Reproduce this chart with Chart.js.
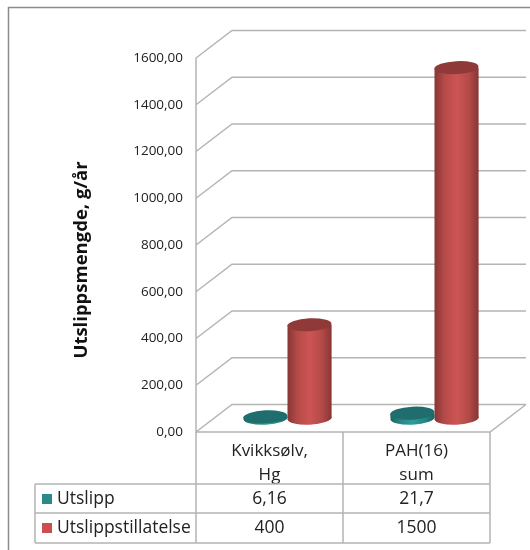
<!DOCTYPE html>
<html lang="en">
<head>
  <meta charset="UTF-8" />
  <title>Utslippsmengde</title>
  <script src="https://cdn.jsdelivr.net/npm/chart.js"></script>
  <style>
    html, body { margin: 0; background: #fff; }
    canvas { display: block; }
  </style>
</head>
<body>
  <canvas id="chart" width="530" height="550"></canvas>
  <script>
    const categories = [['Kvikksølv,', 'Hg'], ['PAH(16)', 'sum']];
    const seriesNames = ['Utslipp', 'Utslippstillatelse'];
    const utslipp = [6.16, 21.7];
    const tillatelse = [400, 1500];
    const utslippLabels = ['6,16', '21,7'];
    const tillatelseLabels = ['400', '1500'];

    const FONT = '"Open Sans", "Noto Sans", sans-serif';
    const TEXT = '#222';
    const LINE = '#b4b4b4';
    const depthX = 36, depthY = -27.5; // wall depth
    const rx = 22, ry = 6.5, tilt = -0.05;

    const shades = [
      { edge: '#1a6464', soft: '#268585', mid: '#2f9c9c', top: '#1f6d6d', key: '#2a8a8a' },
      { edge: '#873634', soft: '#b34a48', mid: '#cd5553', top: '#8f3a38', key: '#c9504f' }
    ];

    function cylinderFill(c) {
      const s = shades[c.datasetIndex];
      const x = c.chart.scales.x;
      if (!x || c.dataIndex === undefined) return s.mid;
      const centre = x.getPixelForValue(c.dataIndex);
      const w = x.width / 2 * 0.6 / 2;
      if (!Number.isFinite(centre) || !Number.isFinite(w)) return s.mid;
      const left = c.datasetIndex === 0 ? centre - w : centre;
      const g = c.chart.ctx.createLinearGradient(left, 0, left + w, 0);
      g.addColorStop(0, s.edge);
      g.addColorStop(0.22, s.soft);
      g.addColorStop(0.5, s.mid);
      g.addColorStop(0.78, s.soft);
      g.addColorStop(1, s.edge);
      return g;
    }

    function ellipse(ctx, x, y, fill) {
      ctx.beginPath();
      ctx.ellipse(x, y, rx, ry, tilt, 0, Math.PI * 2);
      ctx.fillStyle = fill;
      ctx.fill();
    }

    // walls, floor and the data table under the plot
    const frame = {
      id: 'frame',
      beforeDatasetsDraw(chart) {
        const { ctx, scales: { x, y } } = chart;
        const l = x.left, r = x.right, b = y.bottom;
        ctx.save();
        ctx.strokeStyle = LINE;
        ctx.lineWidth = 1.5;
        ctx.beginPath();
        y.ticks.forEach(t => {
          const py = y.getPixelForValue(t.value);
          ctx.moveTo(l, py);
          ctx.lineTo(l + depthX, py + depthY);
          ctx.lineTo(r + depthX, py + depthY);
        });
        ctx.moveTo(l, y.top);
        ctx.lineTo(l, b);
        ctx.lineTo(r, b);
        ctx.lineTo(r + depthX, b + depthY);
        ctx.stroke();
        ctx.restore();
      },
      beforeDatasetDraw(chart, args) {
        const { ctx } = chart;
        ctx.save();
        ctx.translate(depthX / 2, depthY / 2);
        const base = chart.scales.y.getPixelForValue(0);
        args.meta.data.forEach((bar, i) => {
          const fill = cylinderFill({ chart, datasetIndex: args.index, dataIndex: i });
          ellipse(ctx, bar.x, base, fill);
        });
      },
      afterDatasetDraw(chart, args) {
        const { ctx } = chart;
        args.meta.data.forEach(bar => {
          ellipse(ctx, bar.x, bar.y, shades[args.index].top);
        });
        ctx.restore();
      },
      afterDraw(chart) {
        const { ctx, scales: { x, y } } = chart;
        const l = x.left, r = x.right, m = (l + r) / 2, b = y.bottom;
        const tableLeft = 35, row1 = 484, row2 = 513, row3 = 543;
        ctx.save();
        ctx.strokeStyle = LINE;
        ctx.lineWidth = 1.5;
        ctx.beginPath();
        [l, m, r].forEach(px => { ctx.moveTo(px, b); ctx.lineTo(px, row3); });
        [row1, row2, row3].forEach(py => { ctx.moveTo(tableLeft, py); ctx.lineTo(r, py); });
        ctx.moveTo(tableLeft, row1);
        ctx.lineTo(tableLeft, row3);
        ctx.stroke();

        ctx.font = '17.5px ' + FONT;
        ctx.textBaseline = 'middle';
        const rows = [[utslippLabels, row1], [tillatelseLabels, row2]];
        rows.forEach(([labels, top], i) => {
          const cy = top + 15;
          ctx.fillStyle = shades[i].key;
          ctx.fillRect(42, cy - 5, 10, 10);
          ctx.fillStyle = TEXT;
          ctx.textAlign = 'left';
          ctx.fillText(seriesNames[i], 57, cy);
          ctx.textAlign = 'center';
          labels.forEach((s, j) => ctx.fillText(s, x.getPixelForValue(j), cy));
        });

        // axis title sits lower than the plot's middle in the reference
        ctx.save();
        ctx.translate(82, 260);
        ctx.rotate(-Math.PI / 2);
        ctx.font = 'bold 18.5px ' + FONT;
        ctx.fillStyle = '#111';
        ctx.textAlign = 'center';
        ctx.fillText('Utslippsmengde, g/år', 0, 0);
        ctx.restore();

        // outer chart border, only top and left show in the crop
        ctx.strokeStyle = '#8c8c8c';
        ctx.lineWidth = 1.5;
        ctx.beginPath();
        ctx.moveTo(8.5, 550);
        ctx.lineTo(8.5, 7.5);
        ctx.lineTo(530, 7.5);
        ctx.stroke();
        ctx.restore();
      }
    };

    new Chart(document.getElementById('chart'), {
      type: 'bar',
      data: {
        labels: categories,
        datasets: [
          { label: seriesNames[0], data: utslipp, backgroundColor: cylinderFill, clip: false },
          { label: seriesNames[1], data: tillatelse, backgroundColor: cylinderFill, clip: false }
        ]
      },
      plugins: [frame],
      options: {
        responsive: false,
        animation: false,
        barPercentage: 1,
        categoryPercentage: 0.6,
        layout: { padding: { top: 58, right: 40, bottom: 0, left: 0 } },
        plugins: { legend: { display: false }, tooltip: { enabled: false } },
        scales: {
          x: {
            afterFit(s) { s.height = 118; },
            grid: { display: false },
            border: { display: false },
            ticks: { color: TEXT, font: { family: FONT, size: 17, lineHeight: 1.4 }, maxRotation: 0, padding: -1 }
          },
          y: {
            min: 0,
            max: 1600,
            afterFit(s) { s.width = 196; },
            grid: { display: false, drawTicks: false },
            border: { display: false },
            ticks: {
              stepSize: 200,
              color: TEXT,
              padding: 13,
              font: { family: FONT, size: 13.5 },
              callback: v => v.toFixed(2).replace('.', ',')
            }
          }
        }
      }
    });
  </script>
</body>
</html>
